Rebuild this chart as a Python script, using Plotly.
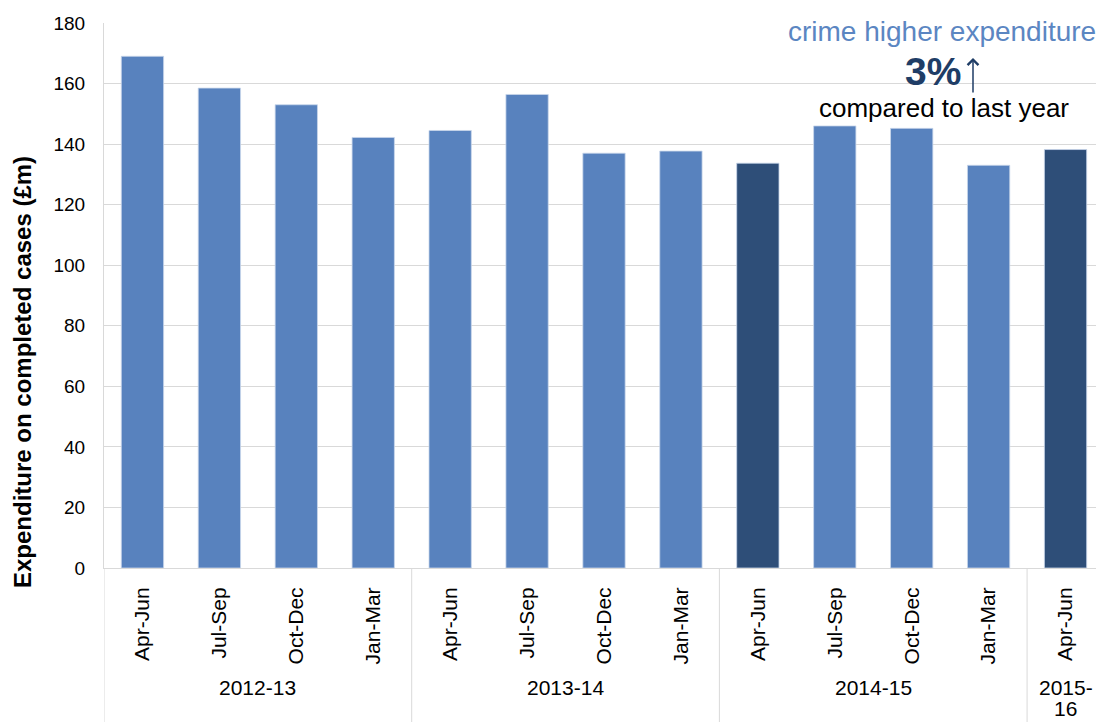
import plotly.graph_objects as go

years = ["2012-13", "2012-13", "2012-13", "2012-13",
         "2013-14", "2013-14", "2013-14", "2013-14",
         "2014-15", "2014-15", "2014-15", "2014-15",
         "2015-16"]
quarters = ["Apr-Jun", "Jul-Sep", "Oct-Dec", "Jan-Mar",
            "Apr-Jun", "Jul-Sep", "Oct-Dec", "Jan-Mar",
            "Apr-Jun", "Jul-Sep", "Oct-Dec", "Jan-Mar",
            "Apr-Jun"]
expenditure = [169, 158.5, 153, 142.2, 144.5, 156.4, 137, 137.7,
               133.7, 146, 145.2, 133, 138.2]
highlight = [False, False, False, False, False, False, False, False,
             True, False, False, False, True]

LIGHT = "#5882BE"
DARK = "#2E4E78"
NAVY = "#1F3D66"
GRID = "#D9D9D9"
FONT = "Liberation Sans, Arial, sans-serif"

# Page body has an 8px margin: figure is sized so it fills the window
FIG_W, FIG_H = 1096, 714
# plot area in page pixels
PX_L, PX_R, PX_T, PX_B = 104, 1104, 23, 568
OFF = 8


def py(page_y):
    return (PX_B - page_y) / (PX_B - PX_T)


def px(page_x):
    return (page_x - PX_L) / (PX_R - PX_L)


xs = list(range(len(expenditure)))
colors = [DARK if h else LIGHT for h in highlight]

fig = go.Figure()
fig.add_trace(go.Bar(
    x=xs, y=expenditure,
    marker=dict(color=colors, line=dict(color="#C9D7EB", width=0.8)),
    width=0.55,
    hoverinfo="y",
))

# group years: centers and boundaries
groups = []
for i, y in enumerate(years):
    if groups and groups[-1][0] == y:
        groups[-1][2] = i
    else:
        groups.append([y, i, i])

annotations = []
shapes = []
yfont = dict(family=FONT, size=21, color="#000000")
for name, start, end in groups:
    center = (start + end) / 2
    if start == end:
        # narrow group: wrap label after the hyphen
        head, tail = name.split("-", 1)
        parts = [head + "-", tail]
    else:
        parts = [name]
    for k, part in enumerate(parts):
        annotations.append(dict(
            x=center, xref="x", y=py(687 + 21 * k), yref="paper",
            text=part, showarrow=False, font=yfont,
            xanchor="center", yanchor="middle",
        ))
    shapes.append(dict(
        type="line", xref="x", yref="paper",
        x0=start - 0.5, x1=start - 0.5, y0=0, y1=py(724),
        line=dict(color=GRID, width=1),
    ))

annotations += [
    # y-axis title (sits lower than the axis centre in the reference)
    dict(x=px(22), y=py(372), xref="paper", yref="paper",
         text="<b>Expenditure on completed cases (£m)</b>", showarrow=False,
         textangle=-90, xanchor="center", yanchor="middle",
         font=dict(family=FONT, size=24, color="#000000")),
    dict(x=px(1098), y=py(31), xref="paper", yref="paper",
         text="crime higher expenditure", showarrow=False,
         xanchor="right", yanchor="middle",
         font=dict(family=FONT, size=28, color="#5B86C2")),
    dict(x=px(933), y=py(72), xref="paper", yref="paper",
         text="<b>3%</b>", showarrow=False,
         xanchor="center", yanchor="middle",
         font=dict(family=FONT, size=39, color=NAVY)),
    # thin up-arrow next to the percentage
    dict(x=px(973), y=py(58), xref="paper", yref="paper",
         text="", showarrow=True, ax=0, ay=36,
         arrowhead=4, arrowsize=1.4, arrowwidth=1.5, arrowcolor=NAVY,
         standoff=0, startstandoff=0),
    dict(x=px(944), y=py(108), xref="paper", yref="paper",
         text="compared to last year", showarrow=False,
         xanchor="center", yanchor="middle",
         font=dict(family=FONT, size=26, color="#000000")),
]

fig.update_layout(
    width=FIG_W, height=FIG_H,
    margin=dict(l=PX_L - OFF, r=FIG_W + OFF - PX_R, t=PX_T - OFF,
                b=FIG_H + OFF - PX_B),
    paper_bgcolor="white", plot_bgcolor="white",
    showlegend=False,
    font=dict(family=FONT, size=16, color="#000000"),
    xaxis=dict(
        range=[-0.5, len(xs) - 0.5],
        tickmode="array", tickvals=xs, ticktext=quarters,
        tickangle=-90, tickfont=dict(size=21, color="#000000"),
        ticks="", ticklabelstandoff=10,
        showgrid=False, showline=True, linecolor=GRID, linewidth=1,
        zeroline=False, fixedrange=True,
    ),
    yaxis=dict(
        range=[0, 180], dtick=20,
        tickfont=dict(size=19, color="#000000"),
        showgrid=True, gridcolor=GRID, gridwidth=1,
        showline=True, linecolor=GRID, linewidth=1,
        zeroline=False, ticks="", ticklabelstandoff=14,
    ),
    annotations=annotations,
    shapes=shapes,
)

fig.write_html("out.html")
